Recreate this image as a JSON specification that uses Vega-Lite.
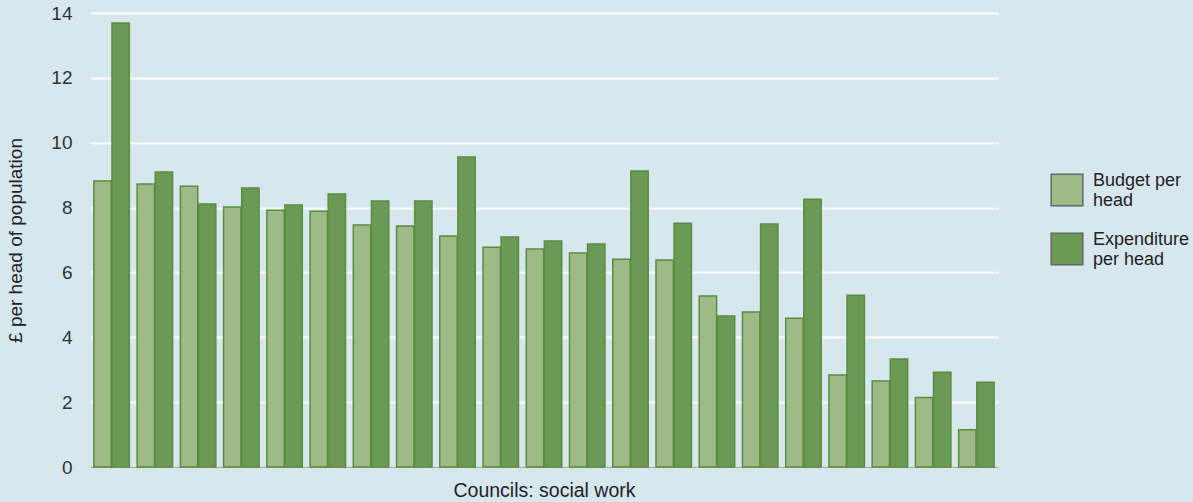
{
  "$schema": "https://vega.github.io/schema/vega-lite/v6.json",
  "autosize": {"type": "none"},
  "width": 908,
  "height": 454,
  "padding": {"left": 90, "top": 13, "right": 195, "bottom": 35},
  "background": "#d7e7ee",
  "config": {
    "view": {"stroke": null},
    "font": "Liberation Sans",
    "axis": {"labelFont": "Liberation Sans", "titleFont": "Liberation Sans"},
    "legend": {"labelFont": "Liberation Sans"}
  },
  "data": {
    "values": [
      {"council": "C01", "measure": "Budget per head", "value": 8.82},
      {"council": "C01", "measure": "Expenditure per head", "value": 13.69},
      {"council": "C02", "measure": "Budget per head", "value": 8.73},
      {"council": "C02", "measure": "Expenditure per head", "value": 9.10},
      {"council": "C03", "measure": "Budget per head", "value": 8.66},
      {"council": "C03", "measure": "Expenditure per head", "value": 8.11},
      {"council": "C04", "measure": "Budget per head", "value": 8.02},
      {"council": "C04", "measure": "Expenditure per head", "value": 8.60},
      {"council": "C05", "measure": "Budget per head", "value": 7.92},
      {"council": "C05", "measure": "Expenditure per head", "value": 8.08},
      {"council": "C06", "measure": "Budget per head", "value": 7.89},
      {"council": "C06", "measure": "Expenditure per head", "value": 8.42},
      {"council": "C07", "measure": "Budget per head", "value": 7.46},
      {"council": "C07", "measure": "Expenditure per head", "value": 8.20},
      {"council": "C08", "measure": "Budget per head", "value": 7.43},
      {"council": "C08", "measure": "Expenditure per head", "value": 8.20},
      {"council": "C09", "measure": "Budget per head", "value": 7.12},
      {"council": "C09", "measure": "Expenditure per head", "value": 9.56},
      {"council": "C10", "measure": "Budget per head", "value": 6.78},
      {"council": "C10", "measure": "Expenditure per head", "value": 7.09},
      {"council": "C11", "measure": "Budget per head", "value": 6.72},
      {"council": "C11", "measure": "Expenditure per head", "value": 6.97},
      {"council": "C12", "measure": "Budget per head", "value": 6.60},
      {"council": "C12", "measure": "Expenditure per head", "value": 6.88},
      {"council": "C13", "measure": "Budget per head", "value": 6.41},
      {"council": "C13", "measure": "Expenditure per head", "value": 9.13},
      {"council": "C14", "measure": "Budget per head", "value": 6.38},
      {"council": "C14", "measure": "Expenditure per head", "value": 7.52},
      {"council": "C15", "measure": "Budget per head", "value": 5.27},
      {"council": "C15", "measure": "Expenditure per head", "value": 4.66},
      {"council": "C16", "measure": "Budget per head", "value": 4.78},
      {"council": "C16", "measure": "Expenditure per head", "value": 7.49},
      {"council": "C17", "measure": "Budget per head", "value": 4.59},
      {"council": "C17", "measure": "Expenditure per head", "value": 8.26},
      {"council": "C18", "measure": "Budget per head", "value": 2.84},
      {"council": "C18", "measure": "Expenditure per head", "value": 5.30},
      {"council": "C19", "measure": "Budget per head", "value": 2.65},
      {"council": "C19", "measure": "Expenditure per head", "value": 3.33},
      {"council": "C20", "measure": "Budget per head", "value": 2.14},
      {"council": "C20", "measure": "Expenditure per head", "value": 2.92},
      {"council": "C21", "measure": "Budget per head", "value": 1.15},
      {"council": "C21", "measure": "Expenditure per head", "value": 2.61}
    ]
  },
  "mark": {"type": "bar", "stroke": "#5a8c3f", "strokeWidth": 1.5},
  "encoding": {
    "x": {
      "field": "council",
      "type": "nominal",
      "sort": null,
      "scale": {"paddingInner": 0.18, "paddingOuter": 0.09},
      "axis": {
        "labels": false,
        "ticks": false,
        "domain": true,
        "domainColor": "#aaaaaa",
        "domainWidth": 1.5,
        "title": "Councils: social work",
        "titleFontSize": 19.5,
        "titleFontWeight": "normal",
        "titleColor": "#222222",
        "titlePadding": 14
      }
    },
    "xOffset": {"field": "measure", "type": "nominal", "scale": {"paddingInner": 0.04}},
    "y": {
      "field": "value",
      "type": "quantitative",
      "scale": {"domain": [0, 14]},
      "axis": {
        "values": [0, 2, 4, 6, 8, 10, 12, 14],
        "domain": false,
        "ticks": false,
        "grid": true,
        "gridColor": "#ffffff",
        "gridWidth": 2,
        "labelFontSize": 19,
        "labelColor": "#333333",
        "labelPadding": 18,
        "title": "£ per head of population",
        "titleFontSize": 19,
        "titleFontWeight": "normal",
        "titleColor": "#222222",
        "titlePadding": 25
      }
    },
    "color": {
      "field": "measure",
      "type": "nominal",
      "scale": {"domain": ["Budget per head", "Expenditure per head"], "range": ["#9dba87", "#6a9a55"]},
      "legend": {
        "title": null,
        "orient": "none",
        "legendX": 960,
        "legendY": 160,
        "symbolType": "square",
        "symbolSize": 1000,
        "symbolStrokeColor": "#666666",
        "symbolStrokeWidth": 1.5,
        "symbolOpacity": 1,
        "labelFontSize": 18,
        "labelColor": "#222222",
        "labelLineHeight": 18,
        "labelOffset": 9,
        "labelBaseline": "bottom",
        "rowPadding": 20,
        "labelExpr": "datum.label == 'Budget per head' ? ['Budget per', 'head'] : ['Expenditure', 'per head']"
      }
    }
  }
}
